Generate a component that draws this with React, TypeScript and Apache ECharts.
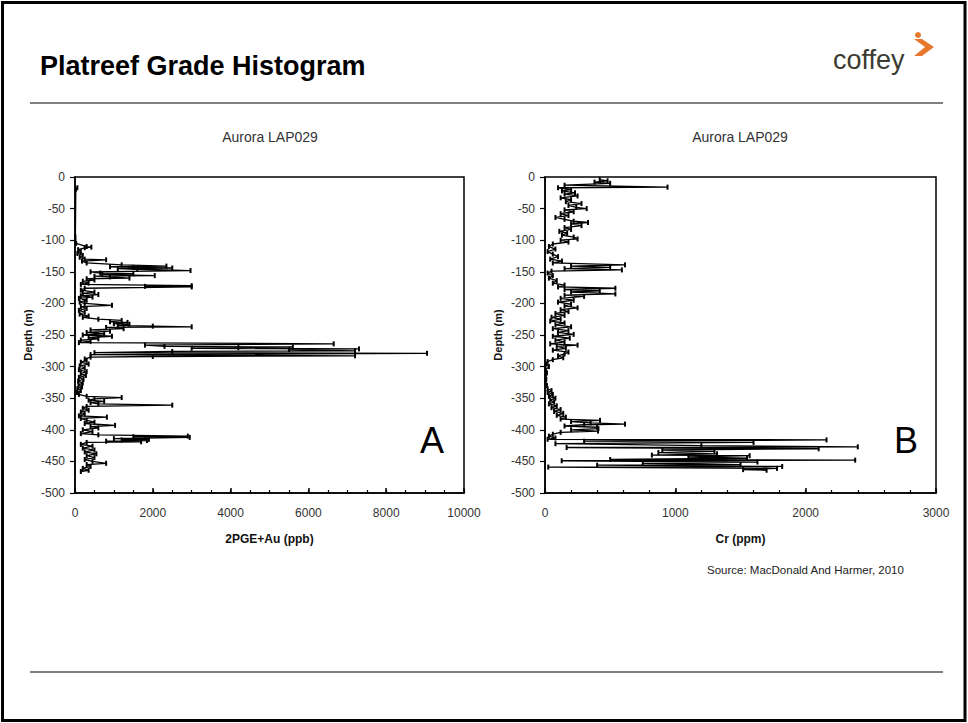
import React, { useEffect, useRef } from "react";
import * as echarts from "echarts";

// Chart A: 2PGE+Au (ppb) vs depth (m)
const depthA = [
  -17, -20, -95, -105, -110, -111, -112, -115, -118, -121, -124, -127, -130, -131, -133, -136, -139, -141, -142, -143,
  -144, -145, -146, -148, -150, -152, -153, -154, -156, -157, -158, -160, -161, -163, -165, -168, -170, -172, -173, -174,
  -176, -179, -182, -184, -186, -188, -190, -192, -195, -198, -200, -203, -205, -208, -211, -214, -217, -220, -222, -225,
  -227, -229, -230, -232, -233, -235, -236, -237, -238, -240, -242, -244, -246, -248, -250, -252, -254, -256, -258, -260,
  -262, -264, -266, -268, -269, -270, -271, -272, -273, -275, -276, -278, -279, -281, -283, -284, -285, -288, -290, -293,
  -296, -299, -302, -305, -308, -311, -314, -317, -320, -323, -326, -329, -332, -335, -338, -341, -344, -347, -349, -351,
  -353, -355, -357, -359, -361, -363, -366, -369, -372, -375, -378, -380, -382, -385, -388, -390, -393, -395, -397, -400,
  -403, -406, -408, -410, -411, -412, -413, -414, -415, -416, -417, -418, -419, -420, -423, -426, -429, -432, -435, -438,
  -441, -444, -447, -450, -453, -455, -458, -461, -464, -466,
];
const valueA = [
  60, 20, 10, 30, 300, 420, 250, 80, 150, 60, 200, 120, 250, 800, 180, 300, 1200, 2350, 900, 1500,
  2500, 1100, 1600, 2970, 400, 650, 1500, 700, 2050, 500, 900, 1400, 300, 500, 200, 350, 150, 3000, 1800, 3000,
  250, 150, 500, 200, 600, 150, 450, 100, 300, 120, 250, 950, 150, 300, 100, 250, 120, 350, 200, 600,
  1200, 900, 1350, 1000, 1400, 1100, 2000, 3000, 800, 1250, 400, 900, 300, 750, 200, 950, 350, 600, 150, 400,
  100, 6650, 1800, 2300, 5600, 4200, 3000, 7300, 5500, 7200, 2500, 500, 9050, 400, 7200, 2000, 400, 250, 300, 150,
  350, 120, 250, 100, 300, 150, 280, 100, 220, 80, 200, 90, 180, 60, 150, 50, 100, 300, 1200, 500,
  350, 750, 400, 600, 2500, 300, 200, 350, 150, 250, 100, 820, 150, 300, 500, 250, 1030, 400, 600, 200,
  450, 150, 600, 2900, 1500, 2950, 1800, 1000, 1900, 1200, 1850, 800, 1700, 300, 150, 450, 200, 500, 250, 550,
  300, 500, 250, 450, 800, 300, 400, 200, 350, 150,
];

// Chart B: Cr (ppm) vs depth (m)
const depthB = [
  -4, -6, -8, -10, -13, -16, -17, -20, -22, -25, -27, -30, -33, -36, -39, -42, -45, -48, -50, -52,
  -55, -58, -61, -64, -67, -70, -72, -74, -77, -80, -83, -86, -89, -92, -95, -98, -100, -103, -106, -110,
  -114, -118, -122, -126, -130, -133, -136, -139, -141, -143, -145, -147, -149, -152, -156, -160, -164, -168, -171, -174,
  -176, -178, -180, -182, -185, -187, -189, -192, -195, -198, -201, -204, -207, -210, -213, -216, -219, -222, -225, -228,
  -231, -234, -237, -240, -243, -246, -249, -252, -255, -258, -261, -264, -266, -268, -271, -274, -277, -280, -283, -286,
  -289, -292, -296, -300, -305, -310, -315, -320, -325, -330, -335, -338, -341, -344, -347, -350, -353, -356, -359, -362,
  -365, -368, -371, -374, -377, -380, -383, -385, -387, -389, -391, -392, -394, -396, -398, -400, -402, -404, -407, -410,
  -413, -415, -416, -418, -420, -422, -425, -427, -428, -430, -432, -434, -436, -438, -440, -441, -443, -445, -447, -448,
  -449, -451, -453, -455, -456, -458, -459, -461, -463, -464,
];
const valueB = [
  420, 480, 380, 500, 150, 940, 100, 200, 130, 230, 150, 250, 120, 200, 160, 280, 180, 240, 320, 150,
  220, 120, 180, 80, 150, 220, 330, 200, 280, 150, 200, 110, 170, 130, 220, 250, 120, 180, 60, 30,
  80, 20, 60, 100, 40, 130, 60, 614, 200, 500, 150, 590, 50, 20, 60, 30, 90, 60, 150, 100,
  540, 150, 420, 200, 540, 150, 300, 120, 220, 100, 200, 150, 250, 120, 180, 80, 150, 50, 120, 40,
  150, 80, 200, 60, 180, 100, 220, 60, 190, 80, 150, 40, 250, 90, 160, 60, 180, 150, 100, 140,
  60, 20, 10, 30, 5, 15, 5, 10, 5, 15, 20, 50, 20, 60, 30, 80, 40, 70, 30, 90,
  50, 120, 70, 140, 90, 160, 120, 422, 200, 350, 614, 300, 150, 400, 410, 200, 407, 120, 60, 30,
  80, 20, 2160, 300, 1600, 80, 1200, 2400, 166, 2100, 900, 1300, 870, 1320, 820, 1570, 1100, 1550, 500, 2380,
  128, 1630, 750, 1500, 400, 1820, 25, 1780, 1520, 1700,
];

const depthTicks = { min: -500, max: 0, interval: 50 };
const axisA = { min: 0, max: 10000, interval: 2000, minor: 500 };
const axisB = { min: 0, max: 3000, interval: 1000, minor: 200 };

const FONT = "Arial, 'Liberation Sans', Helvetica, sans-serif";

function pairs(xs: number[], ys: number[]) {
  return xs.map((v, i) => [v, ys[i]]);
}

function xAxisOf(idx: number, ax: typeof axisA, name: string) {
  return {
    gridIndex: idx,
    type: "value",
    min: ax.min,
    max: ax.max,
    interval: ax.interval,
    position: "bottom",
    axisLine: { onZero: false, lineStyle: { color: "#000", width: 1.5 } },
    axisTick: { inside: true, length: 5, lineStyle: { color: "#000", width: 1.5 } },
    splitLine: { show: false },
    axisLabel: { margin: 14, color: "#333", fontSize: 12, fontFamily: FONT, formatter: (v: number) => String(v) },
    name,
    nameLocation: "middle",
    nameGap: 40,
    nameTextStyle: { fontWeight: "bold", fontSize: 12, color: "#111", fontFamily: FONT },
    z: 5,
  };
}

// ticks-only axis for the minor ticks
function minorAxisOf(idx: number, ax: typeof axisA) {
  return {
    gridIndex: idx,
    type: "value",
    min: ax.min,
    max: ax.max,
    interval: ax.minor,
    position: "bottom",
    axisLine: { show: false, onZero: false },
    axisTick: { inside: true, length: 3, lineStyle: { color: "#000", width: 1.2 } },
    axisLabel: { show: false },
    splitLine: { show: false },
  };
}

function yAxisOf(idx: number) {
  return {
    gridIndex: idx,
    type: "value",
    min: depthTicks.min,
    max: depthTicks.max,
    interval: depthTicks.interval,
    axisLine: { onZero: false, lineStyle: { color: "#000", width: 1.5 } },
    axisTick: { inside: false, length: 5, lineStyle: { color: "#000", width: 1.2 } },
    splitLine: { show: false },
    axisLabel: { margin: 10, color: "#333", fontSize: 12, fontFamily: FONT },
    name: "Depth (m)",
    nameLocation: "middle",
    nameRotate: 90,
    nameGap: 42,
    nameTextStyle: { fontWeight: "bold", fontSize: 11, color: "#111", fontFamily: FONT },
  };
}

function seriesOf(idx: number, data: number[][]) {
  return {
    type: "line",
    xAxisIndex: idx,
    yAxisIndex: idx,
    data,
    showSymbol: true,
    showAllSymbol: true,
    symbol: "rect",
    symbolSize: [2, 5],
    itemStyle: { color: "#000" },
    lineStyle: { color: "#000", width: 1.3 },
    clip: true,
  };
}

export default function App() {
  const ref = useRef<HTMLDivElement>(null);
  useEffect(() => {
    if (!ref.current) return;
    const chart = echarts.init(ref.current, null, { renderer: "svg" });
    chart.setOption({
      animation: false,
      backgroundColor: "#fff",
      grid: [
        { left: 75, top: 177, width: 389, height: 316, show: true, borderColor: "#000", borderWidth: 1.5 },
        { left: 545, top: 177, width: 391, height: 316, show: true, borderColor: "#000", borderWidth: 1.5 },
      ],
      xAxis: [
        xAxisOf(0, axisA, "2PGE+Au (ppb)"),
        xAxisOf(1, axisB, "Cr (ppm)"),
        minorAxisOf(0, axisA),
        minorAxisOf(1, axisB),
      ],
      yAxis: [yAxisOf(0), yAxisOf(1)],
      series: [seriesOf(0, pairs(valueA, depthA)), seriesOf(1, pairs(valueB, depthB))],
      graphic: [
        {
          type: "rect",
          shape: { x: 2.5, y: 2.5, width: 962.5, height: 718 },
          style: { fill: "none", stroke: "#000", lineWidth: 3 },
        },
        {
          type: "text",
          x: 40,
          y: 66,
          style: {
            text: "Platreef Grade Histogram",
            fontSize: 27,
            fontWeight: "bold",
            fill: "#000",
            fontFamily: FONT,
            verticalAlign: "middle",
          },
        },
        {
          type: "text",
          x: 833,
          y: 60,
          style: { text: "coffey", fontSize: 27, fill: "#3b3b32", fontFamily: FONT, verticalAlign: "middle" },
        },
        {
          type: "polygon",
          shape: { points: [[914, 39], [922, 39], [934, 47], [922, 56], [914, 56], [925, 47]] },
          style: { fill: "#e8772e" },
        },
        { type: "circle", shape: { cx: 918, cy: 35, r: 3 }, style: { fill: "#e8772e" } },
        { type: "line", shape: { x1: 30, y1: 103, x2: 943, y2: 103 }, style: { stroke: "#000", lineWidth: 1.2 } },
        { type: "line", shape: { x1: 30, y1: 672, x2: 943, y2: 672 }, style: { stroke: "#000", lineWidth: 1.2 } },
        {
          type: "text",
          x: 270,
          y: 137,
          style: { text: "Aurora LAP029", fontSize: 14, fill: "#333", fontFamily: FONT, align: "center", verticalAlign: "middle" },
        },
        {
          type: "text",
          x: 740,
          y: 137,
          style: { text: "Aurora LAP029", fontSize: 14, fill: "#333", fontFamily: FONT, align: "center", verticalAlign: "middle" },
        },
        {
          type: "text",
          x: 432,
          y: 440,
          style: { text: "A", fontSize: 36, fill: "#000", fontFamily: FONT, align: "center", verticalAlign: "middle" },
        },
        {
          type: "text",
          x: 906,
          y: 440,
          style: { text: "B", fontSize: 36, fill: "#000", fontFamily: FONT, align: "center", verticalAlign: "middle" },
        },
        {
          type: "text",
          x: 707,
          y: 570,
          style: {
            text: "Source: MacDonald And Harmer, 2010",
            fontSize: 11.5,
            fill: "#222",
            fontFamily: FONT,
            verticalAlign: "middle",
          },
        },
      ],
    });
    return () => chart.dispose();
  }, []);
  return <div ref={ref} style={{ position: "fixed", left: 0, top: 0, width: 968, height: 723 }} />;
}
